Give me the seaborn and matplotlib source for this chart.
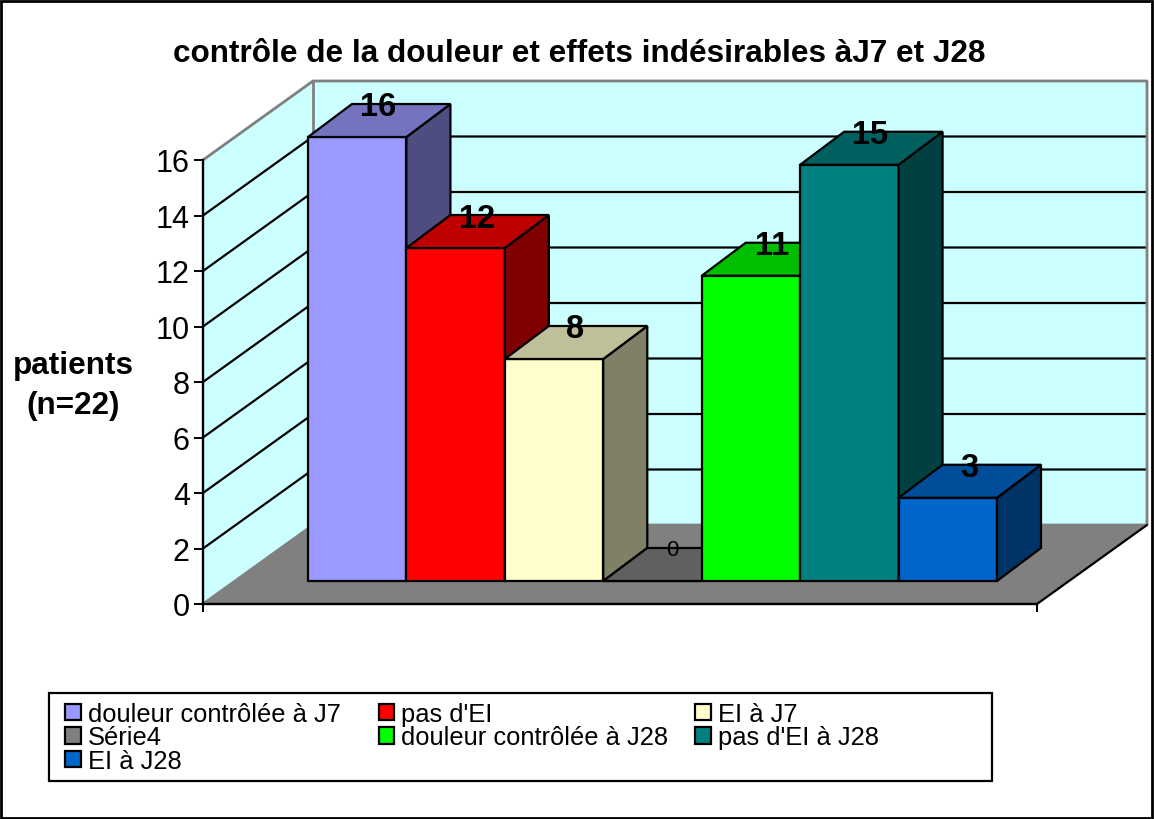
import matplotlib
matplotlib.use("Agg")
import matplotlib.pyplot as plt
import seaborn as sns
import pandas as pd
from matplotlib.offsetbox import DrawingArea
from matplotlib.patches import Patch, Polygon, Rectangle

# ---- data ----
series = ["douleur contrôlée à J7", "pas d'EI", "EI à J7", "Série4",
          "douleur contrôlée à J28", "pas d'EI à J28", "EI à J28"]
values = [16, 12, 8, 0, 11, 15, 3]
colors = ["#9999FF", "#FF0000", "#FFFFCC", "#808080", "#00FF00", "#008080", "#0066CC"]
y_ticks = [0, 2, 4, 6, 8, 10, 12, 14, 16]
title = "contrôle de la douleur et effets indésirables àJ7 et J28"
y_label = "patients\n(n=22)"

# ---- geometry (pixels of the 1154x820 canvas) ----
W, H = 1154, 820
BAR0_LEFT, BAR_W = 308.0, 98.43
BASE_Y, UNIT = 582.0, 27.75
DEPTH_X, DEPTH_Y = 44.0, 33.0
WALL_L, WALL_R, FRONT_R, FRONT_Y = 203.0, 313.0, 1037.0, 605.0
WALL_DX, WALL_DY = 110.0, 79.0
BACK_R = FRONT_R + WALL_DX
EDGE_LW = 1.6

sns.set_theme(style="white")
plt.rcParams["font.family"] = ["Liberation Sans", "DejaVu Sans"]
plt.rcParams["text.color"] = "black"
plt.rcParams["ytick.labelcolor"] = "black"

fig = plt.figure(figsize=(W / 100, H / 100), dpi=100, facecolor="white")
ax = fig.add_axes([0, 0, 1, 1])


def P(x, y):
    """Canvas pixel -> data coordinates of the main axes."""
    return ((x - BAR0_LEFT) / BAR_W - 0.5, (BASE_Y - y) / UNIT)


df = pd.DataFrame({"serie": series, "patients": values})
sns.barplot(data=df, x="serie", y="patients", hue="serie", order=series, hue_order=series,
            palette=colors, dodge=False, width=1.0, edgecolor="black",
            linewidth=EDGE_LW, saturation=1, legend=False, ax=ax)
ax.set_xlim((0 - BAR0_LEFT) / BAR_W - 0.5, (W - BAR0_LEFT) / BAR_W - 0.5)
ax.set_ylim((BASE_Y - H) / UNIT, BASE_Y / UNIT)
ax.axis("off")

# floor and walls
y0 = FRONT_Y
ax.add_patch(Polygon([P(WALL_L, y0), P(WALL_R, y0 - WALL_DY), P(BACK_R, y0 - WALL_DY), P(FRONT_R, y0)],
                     facecolor="#808080", edgecolor="none", zorder=1))
top = y0 - y_ticks[-1] * UNIT
ax.add_patch(Polygon([P(WALL_L, y0), P(WALL_R, y0 - WALL_DY), P(WALL_R, top - WALL_DY), P(WALL_L, top)],
                     facecolor="#CCFFFF", edgecolor="none", zorder=1))
ax.add_patch(Rectangle(P(WALL_R, y0 - WALL_DY), (BACK_R - WALL_R) / BAR_W, (y0 - top) / UNIT,
                       facecolor="#CCFFFF", edgecolor="none", zorder=1))
for t in y_ticks[1:-1]:
    yy = y0 - t * UNIT
    ax.plot(*zip(P(WALL_L, yy), P(WALL_R, yy - WALL_DY), P(BACK_R, yy - WALL_DY)),
            color="black", lw=EDGE_LW, zorder=1.5, solid_joinstyle="miter")
gray = dict(color="#808080", lw=2.0, zorder=1.6)
ax.plot(*zip(P(WALL_L, top), P(WALL_R, top - WALL_DY), P(BACK_R, top - WALL_DY),
             P(BACK_R, y0 - WALL_DY), P(WALL_R, y0 - WALL_DY), P(WALL_L, y0)), **gray)
ax.plot(*zip(P(WALL_R, top - WALL_DY), P(WALL_R, y0 - WALL_DY)), **gray)
ax.plot(*zip(P(BACK_R, y0 - WALL_DY), P(FRONT_R, y0)), color="black", lw=EDGE_LW, zorder=1.6)

# 3-D faces of the bars, built from the bars that seaborn drew
dx, dy = DEPTH_X / BAR_W, DEPTH_Y / UNIT
bars = [c[0] for c in ax.containers]
for i, (bar, col, val) in enumerate(zip(bars, colors, values)):
    x0, w, h = bar.get_x(), bar.get_width(), bar.get_height()
    z = 3 + i
    bar.set_zorder(z)
    rgb = matplotlib.colors.to_rgb(col)
    side = Polygon([(x0 + w, 0), (x0 + w + dx, dy), (x0 + w + dx, h + dy), (x0 + w, h)],
                   facecolor=[c * 0.5 for c in rgb], edgecolor="black", lw=EDGE_LW,
                   zorder=z, joinstyle="miter")
    cap = Polygon([(x0, h), (x0 + dx, h + dy), (x0 + w + dx, h + dy), (x0 + w, h)],
                  facecolor=[c * 0.75 for c in rgb], edgecolor="black", lw=EDGE_LW,
                  zorder=z, joinstyle="miter")
    ax.add_patch(side)
    ax.add_patch(cap)
    if val > 0:
        ax.text(i + dx * 0.48, val + 30 / UNIT, str(val), ha="center", va="center",
                fontsize=23.5, fontweight="bold", color="black", zorder=20)
    else:
        ax.text(i + dx * 0.46, val + 31 / UNIT, str(val), ha="center", va="center",
                fontsize=16, color="black", zorder=20)

# front value axis (real axis, aligned on the front edge of the left wall)
ax2 = fig.add_axes([WALL_L / W, 1 - FRONT_Y / H, (FRONT_R - WALL_L) / W, y_ticks[-1] * UNIT / H])
ax2.patch.set_visible(False)
ax2.set_ylim(y_ticks[0], y_ticks[-1])
ax2.set_xlim(0, 1)
ax2.set_yticks(y_ticks)
ax2.set_yticklabels([str(t) for t in y_ticks])
ax2.set_xticks([0, 1])
ax2.set_xticklabels([])
ax2.tick_params(axis="y", length=6.5, width=1.4, color="black", labelsize=22, labelcolor="black", pad=3, left=True)
ax2.tick_params(axis="x", length=5.5, width=1.4, color="black", bottom=True)
for s in ("top", "right"):
    ax2.spines[s].set_visible(False)
for s in ("left", "bottom"):
    ax2.spines[s].set_visible(True)
    ax2.spines[s].set_color("black")
    ax2.spines[s].set_linewidth(1.7)
ax2.grid(False)

# texts
fig.text(579 / W, 1 - 54 / H, title, ha="center", va="center", fontsize=22.7, fontweight="bold", color="black")
fig.text(73 / W, 1 - 386 / H, y_label, ha="center", va="center", fontsize=22.7, fontweight="bold",
         color="black", linespacing=1.45)

# legend: rows read left to right, matplotlib fills columns
fig.add_artist(Rectangle((49 / W, 1 - 782 / H), (992 - 49) / W, (782 - 694) / H, transform=fig.transFigure,
                         facecolor="white", edgecolor="black", lw=1.6))
order = [0, 3, 6, 1, 4, 2, 5]
handles = [Patch(facecolor=colors[k], edgecolor="black", linewidth=EDGE_LW) for k in order]
labels = [series[k] for k in order]
leg = fig.legend(handles, labels, ncol=3, loc="upper left",
                 bbox_to_anchor=(65 / W, 1 - 703 / H),
                 fontsize=18.4, frameon=False, labelcolor="black",
                 labelspacing=-0.02, handlelength=0.62, handleheight=0.6,
                 handletextpad=0.27, borderpad=0, borderaxespad=0, columnspacing=0)
leg.set_zorder(10)
# the reference's legend columns are equally spaced, so set each gap on its own
box = leg._legend_handle_box
c0, c1, c2 = box.get_children()
gap1, gap2 = DrawingArea(38 * 0.72, 0), DrawingArea(27 * 0.72, 0)
gap1.set_figure(fig)
gap2.set_figure(fig)
box._children = [c0, gap1, c1, gap2, c2]
box.sep = 0

# chart-area border
fig.add_artist(Rectangle((1 / W, 1 / H), (W - 3) / W, (H - 3) / H, transform=fig.transFigure,
                         fill=False, edgecolor="black", lw=2))

fig.savefig("out.png", dpi=100)
